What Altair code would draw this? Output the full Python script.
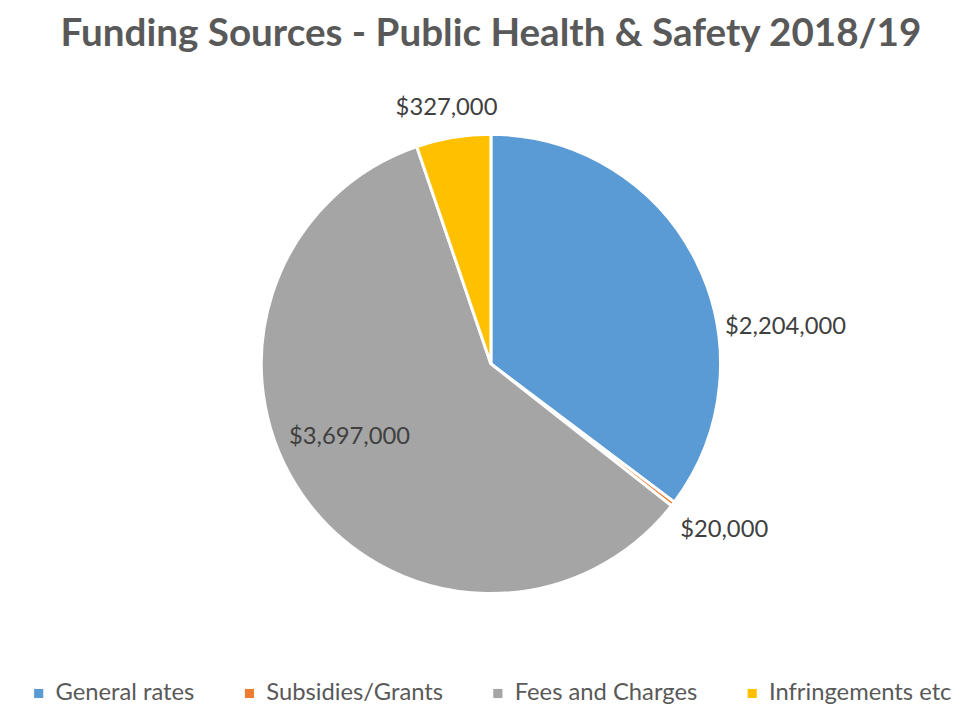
import altair as alt
import pandas as pd

categories = ["General rates", "Subsidies/Grants", "Fees and Charges", "Infringements etc"]
values = [2204000, 20000, 3697000, 327000]
labels = ["$2,204,000", "$20,000", "$3,697,000", "$327,000"]
colors = ["#5B9BD5", "#ED7D31", "#A5A5A5", "#FFC000"]

df = pd.DataFrame({
    "category": categories,
    "value": values,
    "label": labels,
    "idx": list(range(len(categories))),
})

base = (
    alt.Chart(df)
    .transform_stack(stack="value", groupby=[], as_=["v0", "v1"],
                     sort=[alt.SortField("idx", order="ascending")])
    .transform_joinaggregate(total="sum(value)")
    .transform_calculate(
        f0="datum.v0 / datum.total",
        f1="datum.v1 / datum.total",
        fm="(datum.v0 + datum.v1) / 2 / datum.total",
    )
)

theta_scale = alt.Scale(domain=[0, 1])

arcs = base.mark_arc(outerRadius=232, stroke="white", strokeWidth=3).encode(
    theta=alt.Theta("f0:Q", scale=theta_scale),
    theta2="f1:Q",
    color=alt.Color(
        "category:N",
        scale=alt.Scale(domain=categories, range=colors),
        legend=alt.Legend(
            title=None, orient="none", direction="horizontal", columns=4,
            legendX=5, legendY=625, symbolType="square", symbolSize=85,
            symbolStrokeWidth=0, labelFont="Lato", labelFontSize=24,
            labelColor="#595959", columnPadding=43, labelOffset=5,
            padding=0, labelLimit=0,
        ),
    ),
    order=alt.Order("idx:Q"),
)

# label placement (radius, dx, dy) per category
placement = {
    "General rates": (298, 31, 96),
    "Subsidies/Grants": (286, 9, -6),
    "Fees and Charges": (158, -14, -18),
    "Infringements etc": (262, -2, 0),
}

text_layers = []
for cat, (r, dx, dy) in placement.items():
    text_layers.append(
        base.transform_filter(alt.datum.category == cat)
        .mark_text(radius=r, dx=dx, dy=dy, font="Lato", fontSize=24,
                   color="#404040", align="center", baseline="middle")
        .encode(theta=alt.Theta("fm:Q", scale=theta_scale), text="label:N")
    )

chart = (
    alt.layer(arcs, *text_layers)
    .properties(
        width=948,
        height=608,
        padding={"left": 14, "top": 4, "right": 0, "bottom": 0},
        title=alt.TitleParams(
            "Funding Sources - Public Health & Safety 2018/19",
            font="Lato", fontSize=39, fontWeight="bold", color="#595959",
            anchor="middle", offset=9,
        ),
    )
    .configure_view(stroke=None)
)

chart.save("out.html", embed_options={"renderer": "svg", "actions": False})
